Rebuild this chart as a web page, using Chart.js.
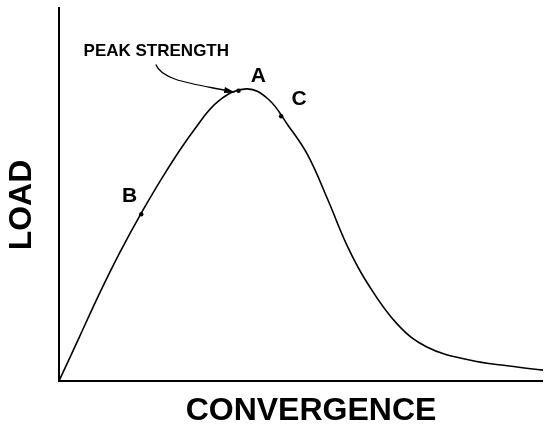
<!DOCTYPE html>
<html>
<head>
<meta charset="utf-8">
<script src="https://cdn.jsdelivr.net/npm/chart.js@4/dist/chart.umd.min.js"></script>
<style>
  html, body { margin: 0; padding: 0; background: #fff; }
  #wrap { width: 547px; height: 436px; position: relative; }
</style>
</head>
<body>
<div id="wrap"><canvas id="loadChart"></canvas></div>
<script>
// Curve (convergence vs load, arbitrary units 0-100)
var convergence = [0, 4.3, 8.4, 12.5, 17.0, 22.3, 27.9, 33.0, 38.7, 43.2, 47.3, 51.4, 55.5, 59.6, 63.7, 69.9, 76.0, 84.8, 93.0, 100];
var load        = [0, 12.0, 23.5, 34.2, 44.9, 56.4, 67.1, 74.9, 78.1, 75.4, 68.4, 60.4, 48.6, 36.0, 26.2, 15.2, 9.1, 5.6, 4.0, 2.9];

// Marked points on the curve
var markLabels = ['B', 'A', 'C'];
var markX = [17.0, 37.1, 45.9];
var markY = [44.6, 77.6, 70.8];
// where each letter sits (data units)
var markTextX = [14.6, 41.2, 49.6];
var markTextY = [49.5, 81.6, 75.4];

var peakText = 'PEAK STRENGTH';
var xTitle = 'CONVERGENCE';
var yTitle = 'LOAD';

var FONT = '"Liberation Sans", Arial, Helvetica, sans-serif';

var curveData = [];
for (var i = 0; i < convergence.length; i++) {
  curveData.push({ x: convergence[i], y: load[i] });
}
var markData = [];
for (var j = 0; j < markX.length; j++) {
  markData.push({ x: markX[j], y: markY[j] });
}

// Axes, titles, letters and the peak-strength arrow
var sketchPlugin = {
  id: 'sketch',
  afterDraw: function (chart) {
    var ctx = chart.ctx;
    var area = chart.chartArea;
    var xs = chart.scales.x;
    var ys = chart.scales.y;

    ctx.save();
    // axis lines
    ctx.strokeStyle = '#000';
    ctx.lineWidth = 2;
    ctx.beginPath();
    ctx.moveTo(area.left, area.top);
    ctx.lineTo(area.left, area.bottom);
    ctx.lineTo(area.right, area.bottom);
    ctx.stroke();

    ctx.fillStyle = '#000';
    ctx.textAlign = 'center';
    ctx.textBaseline = 'middle';

    // letters
    ctx.font = 'bold 21px ' + FONT;
    for (var k = 0; k < markLabels.length; k++) {
      ctx.fillText(markLabels[k], xs.getPixelForValue(markTextX[k]), ys.getPixelForValue(markTextY[k]));
    }

    // peak strength label
    ctx.font = 'bold 17px ' + FONT;
    ctx.fillText(peakText, xs.getPixelForValue(20.1), ys.getPixelForValue(88.2));

    // arrow from label to peak
    var sx = xs.getPixelForValue(20.0), sy = ys.getPixelForValue(84.6);
    var ex = xs.getPixelForValue(36.2), ey = ys.getPixelForValue(77.3);
    ctx.lineWidth = 1.3;
    ctx.beginPath();
    ctx.moveTo(sx, sy);
    ctx.bezierCurveTo(sx + 6, sy + 16, ex - 40, ey - 8, ex - 6, ey - 1);
    ctx.stroke();
    var ang = Math.atan2(3, 16);
    ctx.beginPath();
    ctx.moveTo(ex + 1, ey + 0.5);
    ctx.lineTo(ex - 10 * Math.cos(ang) + 3 * Math.sin(ang), ey - 10 * Math.sin(ang) - 3 * Math.cos(ang));
    ctx.lineTo(ex - 10 * Math.cos(ang) - 3 * Math.sin(ang), ey - 10 * Math.sin(ang) + 3 * Math.cos(ang));
    ctx.closePath();
    ctx.fill();

    // axis titles
    ctx.font = 'bold 32px ' + FONT;
    ctx.fillText(xTitle, 311, 411);
    ctx.save();
    ctx.translate(22, 205);
    ctx.rotate(-Math.PI / 2);
    ctx.fillText(yTitle, 0, 0);
    ctx.restore();

    ctx.restore();
  }
};

var ctx = document.getElementById('loadChart').getContext('2d');
var loadChart = new Chart(ctx, {
  type: 'scatter',
  data: {
    datasets: [{
      label: 'Load',
      data: curveData,
      showLine: true,
      borderColor: '#000',
      borderWidth: 1.6,
      pointRadius: 0,
      tension: 0.4,
      fill: false
    }, {
      label: 'Marks',
      data: markData,
      showLine: false,
      pointRadius: 2.2,
      pointBackgroundColor: '#000',
      pointBorderWidth: 0
    }]
  },
  options: {
    responsive: true,
    maintainAspectRatio: false,
    animation: false,
    layout: {
      padding: { left: 59, right: 0, top: 7, bottom: 55 }
    },
    plugins: {
      legend: { display: false },
      tooltip: { enabled: false }
    },
    scales: {
      x: { type: 'linear', min: 0, max: 100, display: false },
      y: { type: 'linear', min: 0, max: 100, display: false }
    }
  },
  plugins: [sketchPlugin]
});
</script>
</body>
</html>
